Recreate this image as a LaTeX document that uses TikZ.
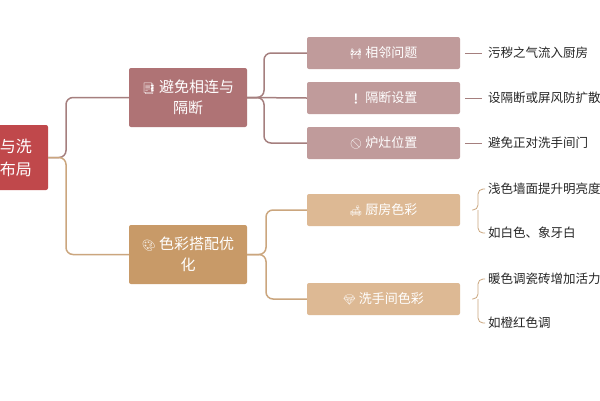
\documentclass[tikz,border=0pt]{standalone}
\usepackage{fontspec}
\setmainfont{Noto Sans CJK SC}
\newfontfamily\emo{Noto Emoji}
\usetikzlibrary{calc}
\definecolor{rootc}{HTML}{C0484B}
\definecolor{b1c}{HTML}{AF7375}
\definecolor{b2c}{HTML}{C89A68}
\definecolor{c1c}{HTML}{C09B9B}
\definecolor{c2c}{HTML}{DDB994}
\definecolor{l1c}{HTML}{A57F7E}
\definecolor{l2c}{HTML}{CBA67E}
\tikzset{
 box/.style={rounded corners=2pt,text=white,align=center,inner sep=0pt},
 bbox/.style={box,minimum width=118pt,minimum height=59pt,font=\fontsize{15}{21}\selectfont},
 cbox/.style={box,minimum width=153pt,minimum height=32pt,font=\fontsize{13}{16}\selectfont},
 leaf/.style={anchor=west,inner sep=0pt,font=\fontsize{12.5}{15}\selectfont,text=black!85},
 con/.style={line width=1.5pt,rounded corners=7pt},
}
\begin{document}
\begin{tikzpicture}[x=1pt,y=-1pt]
\useasboundingbox (0,0) rectangle (600,400);
\fill[white] (0,0) rectangle (600,400);
\node[box,fill=rootc,minimum width=96pt,minimum height=65pt,font=\fontsize{16}{23}\selectfont] (r) at (0,157.5) {厨房与洗\\手间布局};
\node[bbox,fill=b1c] (b1) at (188,97.5) {{\emo\fontsize{11}{11}\selectfont 📑} 避免相连与\\隔断};
\node[bbox,fill=b2c] (b2) at (188,254.5) {{\emo\fontsize{11}{11}\selectfont 🎨} 色彩搭配优\\化};
\node[cbox,fill=c1c] (c1) at (383.5,53) {{\emo\fontsize{10}{10}\selectfont 🚧} 相邻问题};
\node[cbox,fill=c1c] (c2) at (383.5,98) {{\emo\fontsize{10}{10}\selectfont ❗} 隔断设置};
\node[cbox,fill=c1c] (c3) at (383.5,143) {{\emo\fontsize{10}{10}\selectfont 🚫} 炉灶位置};
\node[cbox,fill=c2c] (c4) at (383.5,210) {{\emo\fontsize{10}{10}\selectfont 🛋} 厨房色彩};
\node[cbox,fill=c2c] (c5) at (383.5,299) {{\emo\fontsize{10}{10}\selectfont 💎} 洗手间色彩};
\node[leaf] (d1) at (488,53) {污秽之气流入厨房};
\node[leaf] (d2) at (488,98) {设隔断或屏风防扩散};
\node[leaf] (d3) at (488,143) {避免正对洗手间门};
\node[leaf] (d4) at (488,189) {浅色墙面提升明亮度};
\node[leaf] (d5) at (488,233) {如白色、象牙白};
\node[leaf] (d6) at (488,279) {暖色调瓷砖增加活力};
\node[leaf] (d7) at (488,323) {如橙红色调};
\draw[con,l1c] (r.east) -- (66,157.5) |- (b1.west);
\draw[con,l2c] (r.east) -- (66,157.5) |- (b2.west);
\draw[con,l1c] (b1.east) -- (264,97.5) |- (c1.west);
\draw[con,l1c] (b1.east) -- (264,97.5) |- (c3.west);
\draw[con,l1c] (b1.east) -- (c2.west);
\draw[con,l2c] (b2.east) -- (266,254.5) |- (c4.west);
\draw[con,l2c] (b2.east) -- (266,254.5) |- (c5.west);
\foreach \i in {1,2,3}{\draw[line width=0.8pt,l1c] ($(c\i.east)+(5,0)$) -- ($(d\i.west)+(-6,0)$);}
\draw[line width=0.8pt,l2c,rounded corners=5pt] ($(d4.west)+(-3,0)$) -| (478,210) -- (472,210);
\draw[line width=0.8pt,l2c,rounded corners=5pt] ($(d5.west)+(-3,0)$) -| (478,210);
\draw[line width=0.8pt,l2c,rounded corners=5pt] ($(d6.west)+(-3,0)$) -| (478,299) -- (472,299);
\draw[line width=0.8pt,l2c,rounded corners=5pt] ($(d7.west)+(-3,0)$) -| (478,299);
\end{tikzpicture}
\end{document}
